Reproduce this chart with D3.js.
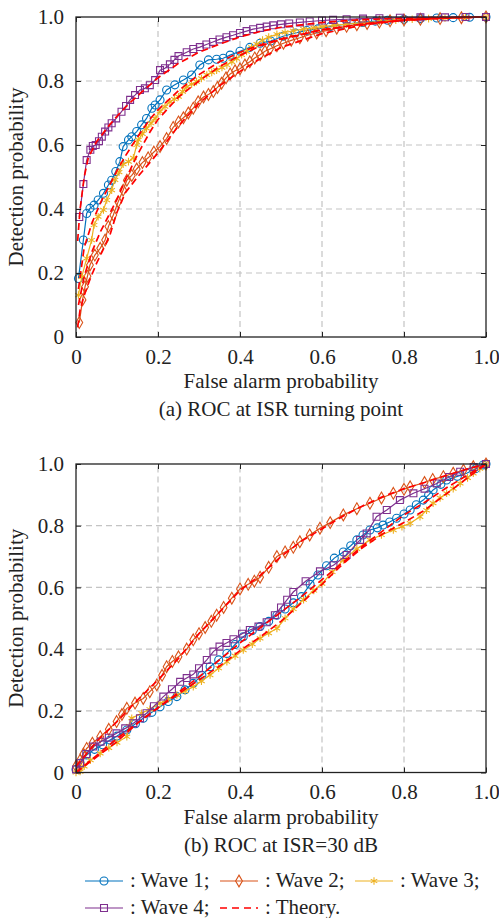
<!DOCTYPE html>
<html>
<head>
<meta charset="utf-8">
<script src="https://cdn.jsdelivr.net/npm/d3@7"></script>
<style>
  body { margin: 0; background: #fff; }
  text { font-family: "Liberation Serif", "Times New Roman", serif; fill: #222; }
</style>
</head>
<body>
<div id="chart"></div>
<script>
// tick labels
const xTickVals = [0, 0.2, 0.4, 0.6, 0.8, 1.0]
const xTickLabels = ["0", "0.2", "0.4", "0.6", "0.8", "1.0"]
const yTickVals = [0, 0.2, 0.4, 0.6, 0.8, 1.0]
const yTickLabels = ["0", "0.2", "0.4", "0.6", "0.8", "1.0"]

const seriesNames = ["Wave 1", "Wave 2", "Wave 3", "Wave 4", "Theory"]
const colors = ["#0072BD", "#D95319", "#EDB120", "#7E2F8E", "#FF0000"]

// (a) ROC at ISR turning point  -- [false alarm, detection]
const a_wave1 = [[0.006,0.183],[0.018,0.303],[0.026,0.386],[0.034,0.402],[0.044,0.412],[0.054,0.428],[0.067,0.449],[0.079,0.475],[0.087,0.49],[0.097,0.517],[0.107,0.548],[0.115,0.595],[0.128,0.616],[0.136,0.626],[0.148,0.642],[0.16,0.663],[0.172,0.683],[0.185,0.715],[0.193,0.725],[0.205,0.741],[0.221,0.772],[0.241,0.788],[0.262,0.803],[0.282,0.819],[0.302,0.85],[0.323,0.866],[0.343,0.868],[0.359,0.871],[0.376,0.881],[0.4,0.893],[0.424,0.905],[0.449,0.918],[0.475,0.925],[0.505,0.94],[0.535,0.95],[0.563,0.958],[0.59,0.963],[0.62,0.97],[0.644,0.975],[0.67,0.979],[0.7,0.983],[0.73,0.987],[0.76,0.99],[0.8,0.993],[0.84,0.995],[0.88,0.997],[0.92,0.998],[0.96,0.999],[1,1]]
const a_wave2 = [[0.008,0.045],[0.016,0.116],[0.022,0.157],[0.028,0.19],[0.034,0.225],[0.046,0.256],[0.059,0.277],[0.071,0.303],[0.079,0.345],[0.091,0.381],[0.103,0.423],[0.115,0.459],[0.124,0.49],[0.136,0.505],[0.148,0.525],[0.162,0.545],[0.176,0.56],[0.19,0.578],[0.205,0.595],[0.221,0.62],[0.237,0.655],[0.25,0.672],[0.262,0.685],[0.274,0.7],[0.286,0.715],[0.298,0.735],[0.311,0.75],[0.323,0.758],[0.335,0.767],[0.345,0.78],[0.355,0.793],[0.366,0.81],[0.376,0.822],[0.388,0.832],[0.4,0.838],[0.412,0.85],[0.424,0.86],[0.436,0.872],[0.449,0.882],[0.461,0.893],[0.473,0.9],[0.49,0.91],[0.506,0.918],[0.525,0.927],[0.546,0.935],[0.565,0.943],[0.587,0.95],[0.61,0.957],[0.636,0.965],[0.66,0.971],[0.685,0.976],[0.71,0.98],[0.74,0.984],[0.766,0.988],[0.8,0.991],[0.84,0.993],[0.888,0.995],[0.94,0.998],[1,1]]
const a_wave3 = [[0.006,0.131],[0.014,0.188],[0.026,0.246],[0.038,0.303],[0.044,0.35],[0.054,0.376],[0.067,0.397],[0.075,0.428],[0.087,0.459],[0.095,0.491],[0.105,0.515],[0.115,0.54],[0.128,0.548],[0.14,0.56],[0.148,0.6],[0.152,0.616],[0.162,0.635],[0.172,0.652],[0.183,0.668],[0.193,0.683],[0.205,0.705],[0.217,0.72],[0.229,0.735],[0.24,0.743],[0.25,0.751],[0.26,0.767],[0.27,0.782],[0.282,0.79],[0.294,0.798],[0.306,0.808],[0.319,0.819],[0.331,0.827],[0.343,0.834],[0.356,0.842],[0.368,0.85],[0.38,0.86],[0.392,0.87],[0.404,0.882],[0.416,0.892],[0.428,0.905],[0.441,0.915],[0.455,0.928],[0.47,0.937],[0.49,0.946],[0.51,0.952],[0.53,0.957],[0.555,0.962],[0.58,0.966],[0.6,0.97],[0.63,0.974],[0.66,0.978],[0.7,0.982],[0.74,0.986],[0.78,0.99],[0.82,0.993],[0.86,0.995],[0.9,0.997],[0.95,0.999],[1,1]]
const a_wave4 = [[0.008,0.375],[0.018,0.478],[0.026,0.553],[0.035,0.585],[0.041,0.597],[0.048,0.6],[0.056,0.612],[0.063,0.626],[0.071,0.642],[0.079,0.655],[0.087,0.668],[0.098,0.683],[0.111,0.704],[0.122,0.722],[0.132,0.741],[0.144,0.756],[0.156,0.772],[0.168,0.777],[0.18,0.787],[0.193,0.803],[0.205,0.834],[0.217,0.84],[0.229,0.852],[0.24,0.866],[0.25,0.878],[0.27,0.89],[0.286,0.9],[0.302,0.906],[0.318,0.914],[0.334,0.922],[0.35,0.93],[0.367,0.937],[0.383,0.943],[0.4,0.95],[0.416,0.956],[0.432,0.962],[0.449,0.966],[0.465,0.97],[0.481,0.974],[0.5,0.977],[0.52,0.98],[0.546,0.983],[0.57,0.986],[0.6,0.989],[0.627,0.991],[0.66,0.993],[0.7,0.995],[0.74,0.996],[0.79,0.998],[0.84,0.999],[0.9,0.999],[0.95,1],[1,1]]
const a_theory1 = [[0.006,0.15],[0.02,0.28],[0.04,0.36],[0.06,0.42],[0.08,0.47],[0.1,0.52],[0.12,0.565],[0.15,0.625],[0.18,0.68],[0.2,0.71],[0.25,0.77],[0.3,0.82],[0.35,0.86],[0.4,0.89],[0.45,0.913],[0.5,0.932],[0.6,0.96],[0.7,0.978],[0.8,0.99],[0.9,0.997],[1,1]]
const a_theory2 = [[0.004,0.03],[0.01,0.085],[0.02,0.13],[0.034,0.18],[0.05,0.23],[0.065,0.27],[0.083,0.32],[0.1,0.39],[0.12,0.45],[0.15,0.5],[0.2,0.575],[0.25,0.66],[0.3,0.73],[0.35,0.785],[0.4,0.83],[0.45,0.87],[0.5,0.905],[0.6,0.948],[0.7,0.975],[0.8,0.99],[0.9,0.997],[1,1]]
const a_theory3 = [[0.006,0.1],[0.02,0.19],[0.04,0.27],[0.06,0.33],[0.08,0.38],[0.1,0.43],[0.12,0.49],[0.15,0.57],[0.18,0.64],[0.2,0.68],[0.25,0.75],[0.3,0.8],[0.35,0.845],[0.4,0.88],[0.45,0.91],[0.5,0.93],[0.6,0.96],[0.7,0.978],[0.8,0.99],[0.9,0.997],[1,1]]
const a_theory4 = [[0.004,0.3],[0.01,0.4],[0.02,0.5],[0.03,0.56],[0.05,0.61],[0.08,0.66],[0.1,0.69],[0.13,0.73],[0.16,0.765],[0.2,0.81],[0.25,0.855],[0.3,0.89],[0.35,0.915],[0.4,0.938],[0.45,0.955],[0.5,0.968],[0.6,0.983],[0.7,0.992],[0.8,0.996],[0.9,0.999],[1,1]]

// (b) ROC at ISR=30 dB
const b_wave1 = [[0,0.01],[0.01,0.03],[0.026,0.057],[0.045,0.075],[0.065,0.09],[0.083,0.105],[0.1,0.118],[0.124,0.138],[0.145,0.158],[0.164,0.176],[0.185,0.195],[0.205,0.213],[0.225,0.23],[0.246,0.246],[0.266,0.268],[0.286,0.289],[0.307,0.315],[0.327,0.343],[0.348,0.365],[0.368,0.386],[0.388,0.415],[0.408,0.44],[0.43,0.46],[0.449,0.473],[0.47,0.49],[0.49,0.51],[0.51,0.53],[0.53,0.55],[0.55,0.57],[0.571,0.61],[0.59,0.64],[0.611,0.67],[0.63,0.695],[0.652,0.715],[0.67,0.735],[0.685,0.754],[0.7,0.77],[0.717,0.786],[0.735,0.793],[0.749,0.802],[0.765,0.812],[0.782,0.824],[0.8,0.838],[0.815,0.851],[0.83,0.868],[0.847,0.883],[0.86,0.9],[0.871,0.916],[0.89,0.934],[0.904,0.948],[0.93,0.96],[0.953,0.97],[0.975,0.985],[0.993,0.997],[1,1]]
const b_wave2 = [[0,0.02],[0.01,0.04],[0.018,0.06],[0.026,0.078],[0.04,0.095],[0.059,0.116],[0.08,0.14],[0.099,0.165],[0.112,0.188],[0.124,0.208],[0.144,0.225],[0.164,0.24],[0.18,0.262],[0.197,0.284],[0.21,0.315],[0.221,0.343],[0.235,0.36],[0.25,0.375],[0.27,0.4],[0.286,0.43],[0.3,0.45],[0.315,0.47],[0.33,0.49],[0.343,0.51],[0.36,0.535],[0.38,0.565],[0.4,0.595],[0.42,0.61],[0.435,0.62],[0.449,0.633],[0.47,0.665],[0.49,0.7],[0.51,0.715],[0.53,0.73],[0.546,0.748],[0.57,0.77],[0.595,0.792],[0.62,0.81],[0.652,0.835],[0.685,0.855],[0.717,0.873],[0.745,0.89],[0.774,0.905],[0.8,0.918],[0.815,0.926],[0.85,0.94],[0.87,0.95],[0.896,0.959],[0.92,0.97],[0.945,0.98],[0.969,0.991],[1,1]]
const b_wave3 = [[0,0],[0.01,0.003],[0.02,0.02],[0.035,0.04],[0.059,0.062],[0.08,0.08],[0.1,0.097],[0.124,0.116],[0.13,0.15],[0.136,0.176],[0.16,0.192],[0.18,0.205],[0.205,0.224],[0.225,0.238],[0.246,0.251],[0.266,0.264],[0.286,0.278],[0.306,0.296],[0.327,0.316],[0.348,0.338],[0.368,0.359],[0.388,0.378],[0.408,0.397],[0.43,0.416],[0.449,0.435],[0.47,0.452],[0.49,0.467],[0.51,0.5],[0.53,0.53],[0.555,0.56],[0.58,0.59],[0.6,0.612],[0.625,0.65],[0.652,0.689],[0.685,0.725],[0.717,0.754],[0.745,0.77],[0.774,0.786],[0.795,0.797],[0.815,0.808],[0.839,0.829],[0.855,0.85],[0.871,0.873],[0.888,0.89],[0.904,0.905],[0.92,0.92],[0.937,0.937],[0.955,0.955],[0.969,0.97],[0.985,0.985],[1,1]]
const b_wave4 = [[0,0.01],[0.01,0.03],[0.025,0.06],[0.042,0.084],[0.06,0.1],[0.08,0.113],[0.099,0.127],[0.12,0.143],[0.14,0.16],[0.156,0.176],[0.172,0.192],[0.19,0.215],[0.213,0.246],[0.234,0.27],[0.254,0.294],[0.27,0.306],[0.286,0.318],[0.3,0.338],[0.319,0.365],[0.335,0.392],[0.35,0.408],[0.367,0.42],[0.384,0.432],[0.405,0.45],[0.424,0.462],[0.445,0.473],[0.465,0.487],[0.485,0.51],[0.5,0.535],[0.515,0.56],[0.53,0.585],[0.56,0.62],[0.595,0.652],[0.628,0.672],[0.66,0.705],[0.693,0.754],[0.709,0.775],[0.733,0.829],[0.758,0.851],[0.79,0.883],[0.823,0.905],[0.85,0.92],[0.88,0.937],[0.91,0.958],[0.937,0.975],[0.97,0.99],[1,1]]
const b_theoryA = [[0,0],[0.05,0.055],[0.1,0.11],[0.15,0.16],[0.2,0.21],[0.25,0.26],[0.3,0.31],[0.35,0.365],[0.4,0.42],[0.45,0.47],[0.5,0.52],[0.55,0.57],[0.6,0.625],[0.65,0.68],[0.7,0.735],[0.75,0.785],[0.8,0.835],[0.85,0.875],[0.9,0.92],[0.95,0.96],[1,1]]
const b_theoryB = [[0,0.02],[0.05,0.1],[0.1,0.165],[0.15,0.235],[0.2,0.3],[0.25,0.37],[0.3,0.45],[0.35,0.52],[0.4,0.59],[0.45,0.64],[0.5,0.7],[0.55,0.75],[0.6,0.79],[0.65,0.83],[0.7,0.865],[0.75,0.895],[0.8,0.92],[0.85,0.94],[0.9,0.962],[0.95,0.982],[1,1]]
const b_theoryC = [[0,0],[0.05,0.05],[0.1,0.1],[0.15,0.16],[0.2,0.21],[0.25,0.255],[0.3,0.3],[0.35,0.345],[0.4,0.395],[0.45,0.44],[0.5,0.49],[0.55,0.55],[0.6,0.61],[0.65,0.675],[0.7,0.73],[0.75,0.775],[0.8,0.81],[0.85,0.85],[0.9,0.9],[0.95,0.95],[1,1]]

const W = 499, H = 918

const svg = d3.select("#chart").append("svg")
    .attr("width", W)
    .attr("height", H)

svg.append("rect").attr("width", W).attr("height", H).attr("fill", "#fff")

const symbols = [d3.symbolCircle, d3.symbolDiamond, d3.symbolAsterisk, d3.symbolSquare]
const symSize = [50, 40, 40, 48]

function drawPanel(top, bottom, waves, theories, caption) {
  const x = d3.scaleLinear().domain([0, 1]).range([76, 486])
  const y = d3.scaleLinear().domain([0, 1]).range([bottom, top])
  const g = svg.append("g")

  // grid
  g.selectAll(".gx").data(xTickVals.slice(1, -1)).enter().append("line")
    .attr("x1", d => x(d)).attr("x2", d => x(d))
    .attr("y1", y(0)).attr("y2", y(1))
    .attr("stroke", "#c4c4c4").attr("stroke-width", 1.2).attr("stroke-dasharray", "6,4")
  g.selectAll(".gy").data(yTickVals.slice(1, -1)).enter().append("line")
    .attr("x1", x(0)).attr("x2", x(1))
    .attr("y1", d => y(d)).attr("y2", d => y(d))
    .attr("stroke", "#c4c4c4").attr("stroke-width", 1.2).attr("stroke-dasharray", "6,4")

  const line = d3.line().x(d => x(d[0])).y(d => y(d[1]))

  waves.forEach(function(data, i) {
    g.append("path")
      .attr("d", line(data))
      .attr("fill", "none")
      .attr("stroke", colors[i])
      .attr("stroke-width", 1.2)
    g.selectAll(".m" + i).data(data).enter().append("path")
      .attr("transform", d => "translate(" + x(d[0]) + "," + y(d[1]) + ")")
      .attr("d", d3.symbol().type(symbols[i]).size(symSize[i]))
      .attr("fill", "none")
      .attr("stroke", colors[i])
      .attr("stroke-width", 1.1)
  })

  theories.forEach(function(data) {
    g.append("path")
      .attr("d", line(data))
      .attr("fill", "none")
      .attr("stroke", colors[4])
      .attr("stroke-width", 1.7)
      .attr("stroke-dasharray", "7,4")
  })

  // box + ticks
  g.append("rect")
    .attr("x", x(0)).attr("y", y(1))
    .attr("width", x(1) - x(0)).attr("height", y(0) - y(1))
    .attr("fill", "none").attr("stroke", "#222").attr("stroke-width", 1.3)

  g.append("g")
    .attr("transform", "translate(0," + y(0) + ")")
    .call(d3.axisBottom(x).tickValues(xTickVals).tickSizeInner(-5).tickSizeOuter(0).tickPadding(12)
      .tickFormat((d, i) => xTickLabels[i]))
    .call(a => a.select(".domain").remove())
    .call(a => a.selectAll("text").attr("font-size", 21).attr("fill", "#222"))
  g.append("g")
    .attr("transform", "translate(" + x(0) + ",0)")
    .call(d3.axisLeft(y).tickValues(yTickVals).tickSizeInner(-5).tickSizeOuter(0).tickPadding(12)
      .tickFormat((d, i) => yTickLabels[i]))
    .call(a => a.select(".domain").remove())
    .call(a => a.selectAll("text").attr("font-size", 21).attr("fill", "#222"))
  g.append("g")
    .attr("transform", "translate(" + x(1) + ",0)")
    .call(d3.axisRight(y).tickValues(yTickVals).tickSizeInner(-5).tickSizeOuter(0).tickFormat(""))
    .call(a => a.select(".domain").remove())
  g.append("g")
    .attr("transform", "translate(0," + y(1) + ")")
    .call(d3.axisTop(x).tickValues(xTickVals).tickSizeInner(-5).tickSizeOuter(0).tickFormat(""))
    .call(a => a.select(".domain").remove())
  g.selectAll(".tick line").attr("stroke", "#222")

  g.append("text")
    .attr("x", (x(0) + x(1)) / 2).attr("y", bottom + 51)
    .attr("text-anchor", "middle").attr("font-size", 21)
    .text("False alarm probability")
  g.append("text")
    .attr("transform", "translate(23," + (top + bottom) / 2 + ") rotate(-90)")
    .attr("text-anchor", "middle").attr("font-size", 21)
    .text("Detection probability")
  g.append("text")
    .attr("x", (x(0) + x(1)) / 2).attr("y", bottom + 79)
    .attr("text-anchor", "middle").attr("font-size", 21)
    .text(caption)
}

drawPanel(17, 337, [a_wave1, a_wave2, a_wave3, a_wave4], [a_theory1, a_theory2, a_theory3, a_theory4], "(a) ROC at ISR turning point")
drawPanel(464, 772.5, [b_wave1, b_wave2, b_wave3, b_wave4], [b_theoryA, b_theoryB, b_theoryC], "(b) ROC at ISR=30 dB")

// legend
const legendPos = [[85, 881], [220, 881], [355, 881], [85, 908], [220, 908]]
const legend = svg.append("g")
seriesNames.forEach(function(name, i) {
  const p = legendPos[i]
  legend.append("line")
    .attr("x1", p[0]).attr("x2", p[0] + 38)
    .attr("y1", p[1]).attr("y2", p[1])
    .attr("stroke", colors[i])
    .attr("stroke-width", i == 4 ? 1.7 : 1.2)
    .attr("stroke-dasharray", i == 4 ? "7,5" : null)
  if (i < 4) {
    legend.append("path")
      .attr("transform", "translate(" + (p[0] + 19) + "," + p[1] + ")")
      .attr("d", d3.symbol().type(symbols[i]).size(symSize[i]))
      .attr("fill", "none").attr("stroke", colors[i]).attr("stroke-width", 1.1)
  }
  legend.append("text")
    .attr("x", p[0] + 45).attr("y", p[1] + 6)
    .attr("font-size", 21)
    .text(": " + name + (i == 4 ? "." : ";"))
})
</script>
</body>
</html>
